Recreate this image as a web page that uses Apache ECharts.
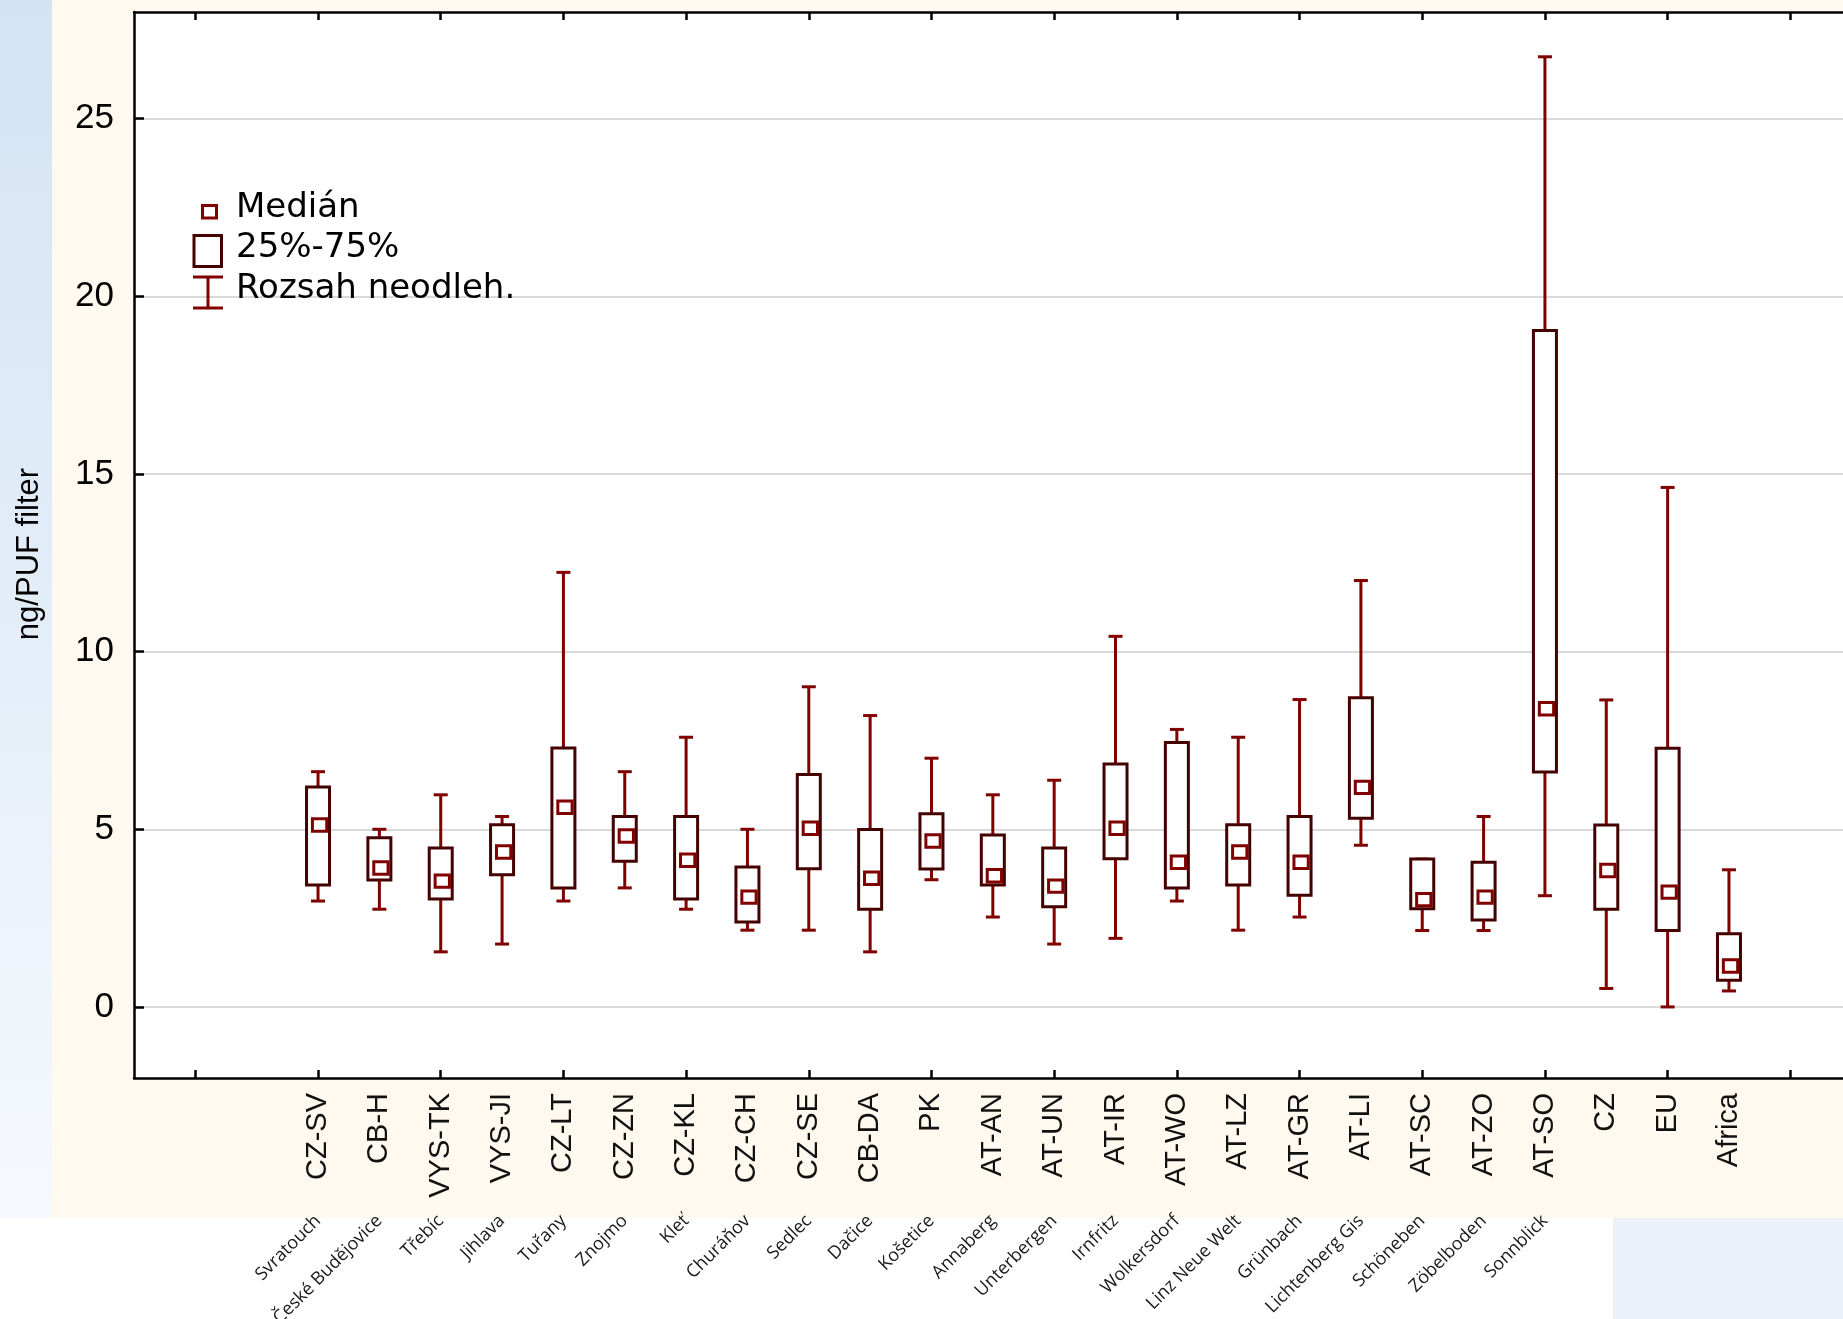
<!DOCTYPE html>
<html>
<head>
<meta charset="utf-8">
<title>ng/PUF filter</title>
<script src="https://cdn.jsdelivr.net/npm/echarts@6/dist/echarts.min.js"></script>
<style>
  html, body { margin: 0; padding: 0; background: #fff; }
  #main { width: 1843px; height: 1319px; }
</style>
</head>
<body>
<div id="main"></div>
<script>
// site codes on the axis and the site names written under them
var codes = ['CZ-SV', 'CB-H', 'VYS-TK', 'VYS-JI', 'CZ-LT', 'CZ-ZN', 'CZ-KL', 'CZ-CH', 'CZ-SE', 'CB-DA', 'PK', 'AT-AN',
             'AT-UN', 'AT-IR', 'AT-WO', 'AT-LZ', 'AT-GR', 'AT-LI', 'AT-SC', 'AT-ZO', 'AT-SO', 'CZ', 'EU', 'Africa'];
var sites = ['Svratouch', 'České Budějovice', 'Třebíc', 'Jihlava', 'Tuřany', 'Znojmo', 'Kleť', 'Churáňov', 'Sedlec', 'Dačice',
             'Košetice', 'Annaberg', 'Unterbergen', 'Irnfritz', 'Wolkersdorf', 'Linz Neue Welt', 'Grünbach', 'Lichtenberg Gis',
             'Schöneben', 'Zöbelboden', 'Sonnblick'];

// box plot values (ng/PUF filter)
var whiskerMin = [2.98, 2.75, 1.55, 1.77, 2.98, 3.35, 2.75, 2.16, 2.16, 1.55, 3.58, 2.53, 1.77, 1.93, 2.98, 2.16, 2.53, 4.55, 2.15, 2.15, 3.13, 0.52, 0.0, 0.45];
var q1         = [3.43, 3.57, 3.04, 3.72, 3.35, 4.10, 3.04, 2.39, 3.89, 2.75, 3.88, 3.43, 2.82, 4.17, 3.35, 3.43, 3.14, 5.31, 2.76, 2.45, 6.61, 2.75, 2.15, 0.75];
var median     = [5.12, 3.91, 3.54, 4.36, 5.62, 4.81, 4.13, 3.09, 5.03, 3.62, 4.67, 3.69, 3.40, 5.03, 4.07, 4.36, 4.07, 6.18, 3.02, 3.09, 8.39, 3.84, 3.23, 1.15];
var q3         = [6.19, 4.76, 4.47, 5.13, 7.29, 5.36, 5.36, 3.94, 6.54, 4.99, 5.44, 4.84, 4.47, 6.84, 7.44, 5.13, 5.36, 8.70, 4.16, 4.07, 19.04, 5.12, 7.28, 2.06];
var whiskerMax = [6.62, 5.00, 5.97, 5.36, 12.23, 6.62, 7.59, 5.00, 9.01, 8.20, 7.00, 5.97, 6.38, 10.43, 7.81, 7.59, 8.65, 12.00, 4.16, 5.36, 26.74, 8.64, 14.62, 3.86];

var yTicks = [0, 5, 10, 15, 20, 25];

// the axis has empty slots before and after the sites
var lead = 3, total = 30;
var cats = [], siteCats = [];
for (var i = 0; i < total; i++) {
    var k = i - lead;
    cats.push(k >= 0 && k < codes.length ? codes[k] : '');
    siteCats.push(k >= 0 && k < sites.length ? sites[k] : '');
}
var boxData = codes.map(function (c, i) {
    return [i + lead, whiskerMin[i], q1[i], median[i], q3[i], whiskerMax[i]];
});

var dark = '#450000', red = '#800000';
var oddTicks = function (index) { return index % 2 === 1; };

function renderBox(params, api) {
    var idx = api.value(0);
    var x = api.coord([idx, 0])[0];
    var yLo = api.coord([idx, api.value(1)])[1];
    var yQ1 = api.coord([idx, api.value(2)])[1];
    var yMed = api.coord([idx, api.value(3)])[1];
    var yQ3 = api.coord([idx, api.value(4)])[1];
    var yHi = api.coord([idx, api.value(5)])[1];
    var w = { stroke: red, lineWidth: 3 };
    return {
        type: 'group',
        children: [
            { type: 'line', shape: { x1: x, y1: yHi, x2: x, y2: yQ3 }, style: w },
            { type: 'line', shape: { x1: x, y1: yQ1, x2: x, y2: yLo }, style: w },
            { type: 'line', shape: { x1: x - 7, y1: yHi, x2: x + 7, y2: yHi }, style: w },
            { type: 'line', shape: { x1: x - 7, y1: yLo, x2: x + 7, y2: yLo }, style: w },
            { type: 'rect', shape: { x: x - 11.5, y: yQ3, width: 23, height: yQ1 - yQ3 },
              style: { fill: '#fff', stroke: dark, lineWidth: 3 } },
            { type: 'rect', shape: { x: x - 5.6, y: yMed - 6.2, width: 14.3, height: 12.4 },
              style: { fill: '#fff', stroke: red, lineWidth: 3 } }
        ]
    };
}

var chart = echarts.init(document.getElementById('main'));
chart.setOption({
    animation: false,
    backgroundColor: '#ffffff',
    grid: [
        { left: 134, top: 12, right: -70, bottom: 241, show: true, backgroundColor: '#ffffff', borderWidth: 0,
          containLabel: false, outerBoundsMode: 'none' },
        // thin strip only used to carry the site names
        { left: 134, top: 1190, right: -70, height: 20, show: false, containLabel: false, outerBoundsMode: 'none' }
    ],
    xAxis: [
        {
            type: 'category', gridIndex: 0, position: 'bottom', data: cats, boundaryGap: false,
            axisLine: { onZero: false, lineStyle: { color: '#000', width: 2.5 } },
            axisTick: { inside: true, length: 8, interval: oddTicks, lineStyle: { color: '#000', width: 2.5 } },
            axisLabel: { interval: 0, rotate: 90, margin: 15, fontFamily: 'Liberation Sans', fontSize: 29, color: '#111' },
            splitLine: { show: false }
        },
        {
            type: 'category', gridIndex: 0, position: 'top', data: cats, boundaryGap: false,
            axisLine: { onZero: false, lineStyle: { color: '#000', width: 2.5 } },
            axisTick: { inside: true, length: 8, interval: oddTicks, lineStyle: { color: '#000', width: 2.5 } },
            axisLabel: { show: false },
            splitLine: { show: false }
        },
        {
            type: 'category', gridIndex: 1, position: 'bottom', data: siteCats, boundaryGap: false,
            axisLine: { show: false }, axisTick: { show: false },
            axisLabel: { interval: 0, rotate: 45, margin: 8, fontFamily: 'Open Sans', fontSize: 18, color: '#1a1a1a' },
            splitLine: { show: false }
        }
    ],
    yAxis: [
        {
            type: 'value', gridIndex: 0, min: -2, max: 28,
            axisLine: { show: true, onZero: false, lineStyle: { color: '#000', width: 2.5 } },
            axisTick: { show: true, inside: true, length: 10, customValues: yTicks, lineStyle: { color: '#000', width: 2.5 } },
            axisLabel: { customValues: yTicks, margin: 20, fontFamily: 'Liberation Sans', fontSize: 35, color: '#000' },
            splitLine: { show: true, lineStyle: { color: '#d9d9d9', width: 2 } }
        },
        { type: 'value', gridIndex: 1, show: false }
    ],
    graphic: [
        { type: 'rect', z: -10, shape: { x: 52, y: 0, width: 1791, height: 1218 }, style: { fill: '#fff9ef' } },
        { type: 'rect', z: -10, shape: { x: 0, y: 0, width: 52, height: 1218 },
          style: { fill: new echarts.graphic.LinearGradient(0, 0, 0, 1, [
              { offset: 0, color: '#d3e3f4' }, { offset: 0.5, color: '#e3edf8' }, { offset: 1, color: '#f6f9fd' }]) } },
        { type: 'rect', z: -10, shape: { x: 1613, y: 1218, width: 230, height: 101 }, style: { fill: '#eaf1f9' } },

        // legend
        { type: 'rect', z: 100, shape: { x: 202.5, y: 205.5, width: 14, height: 12.5 },
          style: { fill: '#fff', stroke: red, lineWidth: 3 } },
        { type: 'rect', z: 100, shape: { x: 194, y: 235.5, width: 27.5, height: 31 },
          style: { fill: '#fff', stroke: dark, lineWidth: 3 } },
        { type: 'line', z: 100, shape: { x1: 208, y1: 277, x2: 208, y2: 308 }, style: { stroke: red, lineWidth: 3 } },
        { type: 'line', z: 100, shape: { x1: 193, y1: 277, x2: 223, y2: 277 }, style: { stroke: red, lineWidth: 3 } },
        { type: 'line', z: 100, shape: { x1: 193, y1: 308, x2: 223, y2: 308 }, style: { stroke: red, lineWidth: 3 } },
        { type: 'text', z: 100, x: 236, y: 208,
          style: { text: 'Medián', fontFamily: 'DejaVu Sans', fontSize: 34, fill: '#000', align: 'left', verticalAlign: 'middle' } },
        { type: 'text', z: 100, x: 236, y: 248,
          style: { text: '25%-75%', fontFamily: 'DejaVu Sans', fontSize: 34, fill: '#000', align: 'left', verticalAlign: 'middle' } },
        { type: 'text', z: 100, x: 236, y: 289,
          style: { text: 'Rozsah neodleh.', fontFamily: 'DejaVu Sans', fontSize: 34, fill: '#000', align: 'left', verticalAlign: 'middle' } },

        // y axis title
        { type: 'text', z: 100, x: 29, y: 554, rotation: Math.PI / 2,
          style: { text: 'ng/PUF filter', fontFamily: 'Liberation Sans', fontSize: 31, fill: '#000', align: 'center', verticalAlign: 'middle' } }
    ],
    series: [
        {
            type: 'custom',
            xAxisIndex: 0,
            yAxisIndex: 0,
            renderItem: renderBox,
            encode: { x: 0, y: [1, 2, 3, 4, 5] },
            data: boxData,
            z: 5
        }
    ]
});
</script>
</body>
</html>
